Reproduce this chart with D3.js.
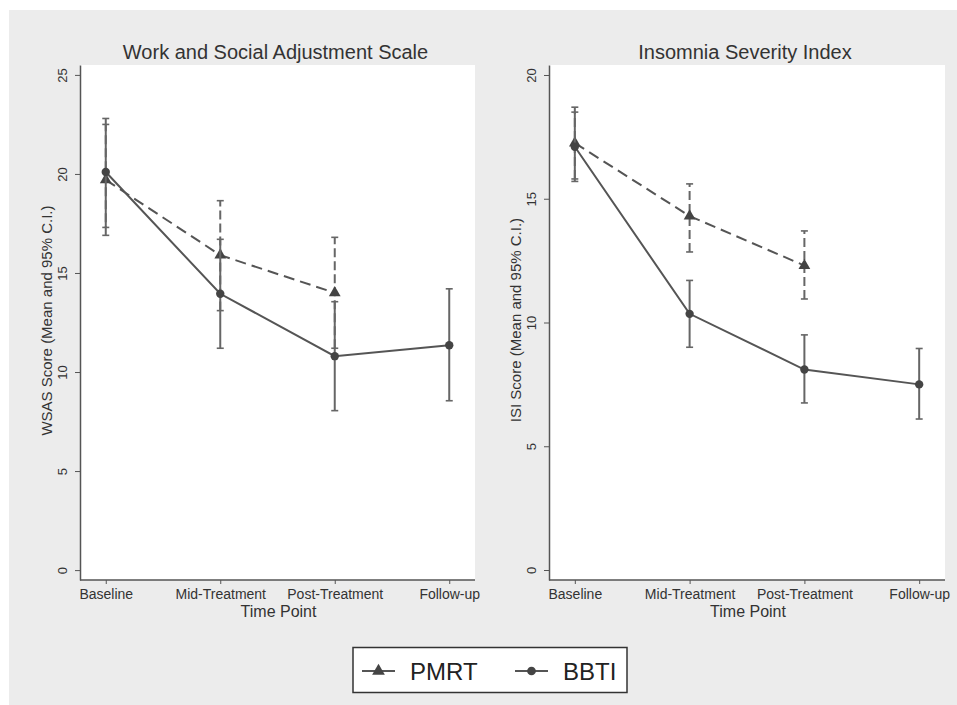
<!DOCTYPE html>
<html>
<head>
<meta charset="utf-8">
<script src="https://cdn.jsdelivr.net/npm/d3@7"></script>
<style>
  body { margin: 0; background: #fff; }
  svg { display: block; font-family: "Liberation Sans", Arial, sans-serif; }
</style>
</head>
<body>
<svg id="chart" width="957" height="705"></svg>
<script>
const timePoints = ["Baseline", "Mid-Treatment", "Post-Treatment", "Follow-up"];

// Work and Social Adjustment Scale
const wsasPmrtMean = [19.7, 15.9, 14.0];
const wsasPmrtLo   = [16.9, 13.1, 11.2];
const wsasPmrtHi   = [22.5, 18.65, 16.8];
const wsasBbtiMean = [20.1, 13.95, 10.8, 11.35];
const wsasBbtiLo   = [17.3, 11.2, 8.05, 8.55];
const wsasBbtiHi   = [22.8, 16.7, 13.55, 14.2];
const wsasTicks = [0, 5, 10, 15, 20, 25];

// Insomnia Severity Index
const isiPmrtMean = [17.25, 14.3, 12.3];
const isiPmrtLo   = [15.8, 12.85, 10.95];
const isiPmrtHi   = [18.7, 15.6, 13.7];
const isiBbtiMean = [17.1, 10.35, 8.1, 7.5];
const isiBbtiLo   = [15.7, 9.0, 6.75, 6.1];
const isiBbtiHi   = [18.5, 11.7, 9.5, 8.95];
const isiTicks = [0, 5, 10, 15, 20];

const groups = ["PMRT", "BBTI"];

const svg = d3.select("#chart");
const lineCol = "#555";
const dash = "11,6";

// grey backdrop
svg.append("rect").attr("x", 9).attr("y", 10).attr("width", 948).attr("height", 695).attr("fill", "#ececec");

function series(mean, lo, hi) {
  return mean.map((m, i) => ({ t: timePoints[i], m: m, lo: lo[i], hi: hi[i] }));
}

function panel(opt) {
  const x = d3.scalePoint().domain(timePoints).range([opt.left, opt.right]).padding(0.225);
  const y = d3.scaleLinear().domain(opt.ydom).range([580, 65]);

  svg.append("rect")
    .attr("x", opt.left).attr("y", 65)
    .attr("width", opt.right - opt.left).attr("height", 515)
    .attr("fill", "#fff");

  // title
  svg.append("text")
    .attr("x", (opt.left + opt.right) / 2 - 2).attr("y", 59)
    .attr("text-anchor", "middle").style("font-size", "20px").style("fill", "#333")
    .text(opt.title);

  // y axis
  const ya = svg.append("g").attr("transform", "translate(" + opt.left + ",0)")
    .call(d3.axisLeft(y).tickValues(opt.ticks).tickSize(5).tickPadding(0).tickSizeOuter(0));
  ya.select(".domain").attr("stroke", lineCol).attr("stroke-width", 1.5);
  ya.selectAll(".tick line").attr("stroke", lineCol);
  ya.selectAll(".tick text")
    .attr("x", null).attr("dy", null)
    .attr("transform", "translate(-13,0) rotate(-90)")
    .attr("text-anchor", "middle")
    .style("font-size", "13px").style("fill", "#333").style("font-family", "Liberation Sans, Arial");

  svg.append("text")
    .attr("transform", "translate(" + (opt.left - 28) + "," + y(opt.ydom[1] / 2 + opt.ydom[0] / 2 + 0.1) + ") rotate(-90)")
    .attr("text-anchor", "middle").style("font-size", "15px").style("fill", "#333")
    .text(opt.ylabel);

  // x axis
  const xa = svg.append("g").attr("transform", "translate(0,580)")
    .call(d3.axisBottom(x).tickSize(4).tickPadding(5).tickSizeOuter(0));
  xa.select(".domain").attr("stroke", lineCol).attr("stroke-width", 1.5)
    .attr("d", "M" + opt.left + ",0H" + opt.right);
  xa.selectAll(".tick line").attr("stroke", lineCol);
  xa.selectAll(".tick text").style("font-size", "14px").style("fill", "#333")
    .style("font-family", "Liberation Sans, Arial");

  svg.append("text")
    .attr("x", (opt.left + opt.right) / 2 + 1).attr("y", 617)
    .attr("text-anchor", "middle").style("font-size", "16px").style("fill", "#333")
    .text("Time Point");

  const line = d3.line().x(d => x(d.t)).y(d => y(d.m));

  function draw(data, dashed, shape) {
    const g = svg.append("g");
    // error bars
    g.selectAll(".ci").data(data).enter().append("line")
      .attr("x1", d => x(d.t)).attr("x2", d => x(d.t))
      .attr("y1", d => y(d.lo)).attr("y2", d => y(d.hi))
      .attr("stroke", "#666").attr("stroke-width", 2)
      .attr("stroke-dasharray", dashed ? "9,4" : null);
    ["lo", "hi"].forEach(k => {
      g.selectAll(".cap" + k).data(data).enter().append("line")
        .attr("x1", d => x(d.t) - 3.5).attr("x2", d => x(d.t) + 3.5)
        .attr("y1", d => y(d[k])).attr("y2", d => y(d[k]))
        .attr("stroke", "#666").attr("stroke-width", 1.6);
    });
    g.append("path").datum(data).attr("d", line)
      .attr("fill", "none").attr("stroke", lineCol).attr("stroke-width", 2)
      .attr("stroke-dasharray", dashed ? dash : null);
    g.selectAll(".mk").data(data).enter().append("path")
      .attr("transform", d => "translate(" + x(d.t) + "," + y(d.m) + ")")
      .attr("d", d3.symbol().type(shape).size(shape === d3.symbolTriangle ? 60 : 55))
      .attr("fill", "#444");
  }

  draw(series(opt.pmrt[0], opt.pmrt[1], opt.pmrt[2]), true, d3.symbolTriangle);
  draw(series(opt.bbti[0], opt.bbti[1], opt.bbti[2]), false, d3.symbolCircle);
}

panel({
  left: 80, right: 475, ydom: [-0.5, 25.5], ticks: wsasTicks,
  title: "Work and Social Adjustment Scale",
  ylabel: "WSAS Score (Mean and 95% C.I.)",
  pmrt: [wsasPmrtMean, wsasPmrtLo, wsasPmrtHi],
  bbti: [wsasBbtiMean, wsasBbtiLo, wsasBbtiHi]
});

panel({
  left: 549, right: 945, ydom: [-0.404, 20.404], ticks: isiTicks,
  title: "Insomnia Severity Index",
  ylabel: "ISI Score (Mean and 95% C.I.)",
  pmrt: [isiPmrtMean, isiPmrtLo, isiPmrtHi],
  bbti: [isiBbtiMean, isiBbtiLo, isiBbtiHi]
});

// legend
const lg = svg.append("g");
lg.append("rect").attr("x", 353).attr("y", 647.5).attr("width", 274).attr("height", 45)
  .attr("fill", "#fff").attr("stroke", "#333").attr("stroke-width", 1.5);
const legendItems = [
  { name: groups[0], x: 362, shape: d3.symbolTriangle },
  { name: groups[1], x: 515, shape: d3.symbolCircle }
];
legendItems.forEach(it => {
  lg.append("line").attr("x1", it.x).attr("x2", it.x + 33).attr("y1", 671).attr("y2", 671)
    .attr("stroke", lineCol).attr("stroke-width", 2);
  lg.append("path").attr("transform", "translate(" + (it.x + 16.5) + ",671)")
    .attr("d", d3.symbol().type(it.shape).size(it.shape === d3.symbolTriangle ? 70 : 60))
    .attr("fill", "#444");
  lg.append("text").attr("x", it.x + 48).attr("y", 679.5)
    .style("font-size", "24px").style("fill", "#222").text(it.name);
});
</script>
</body>
</html>
